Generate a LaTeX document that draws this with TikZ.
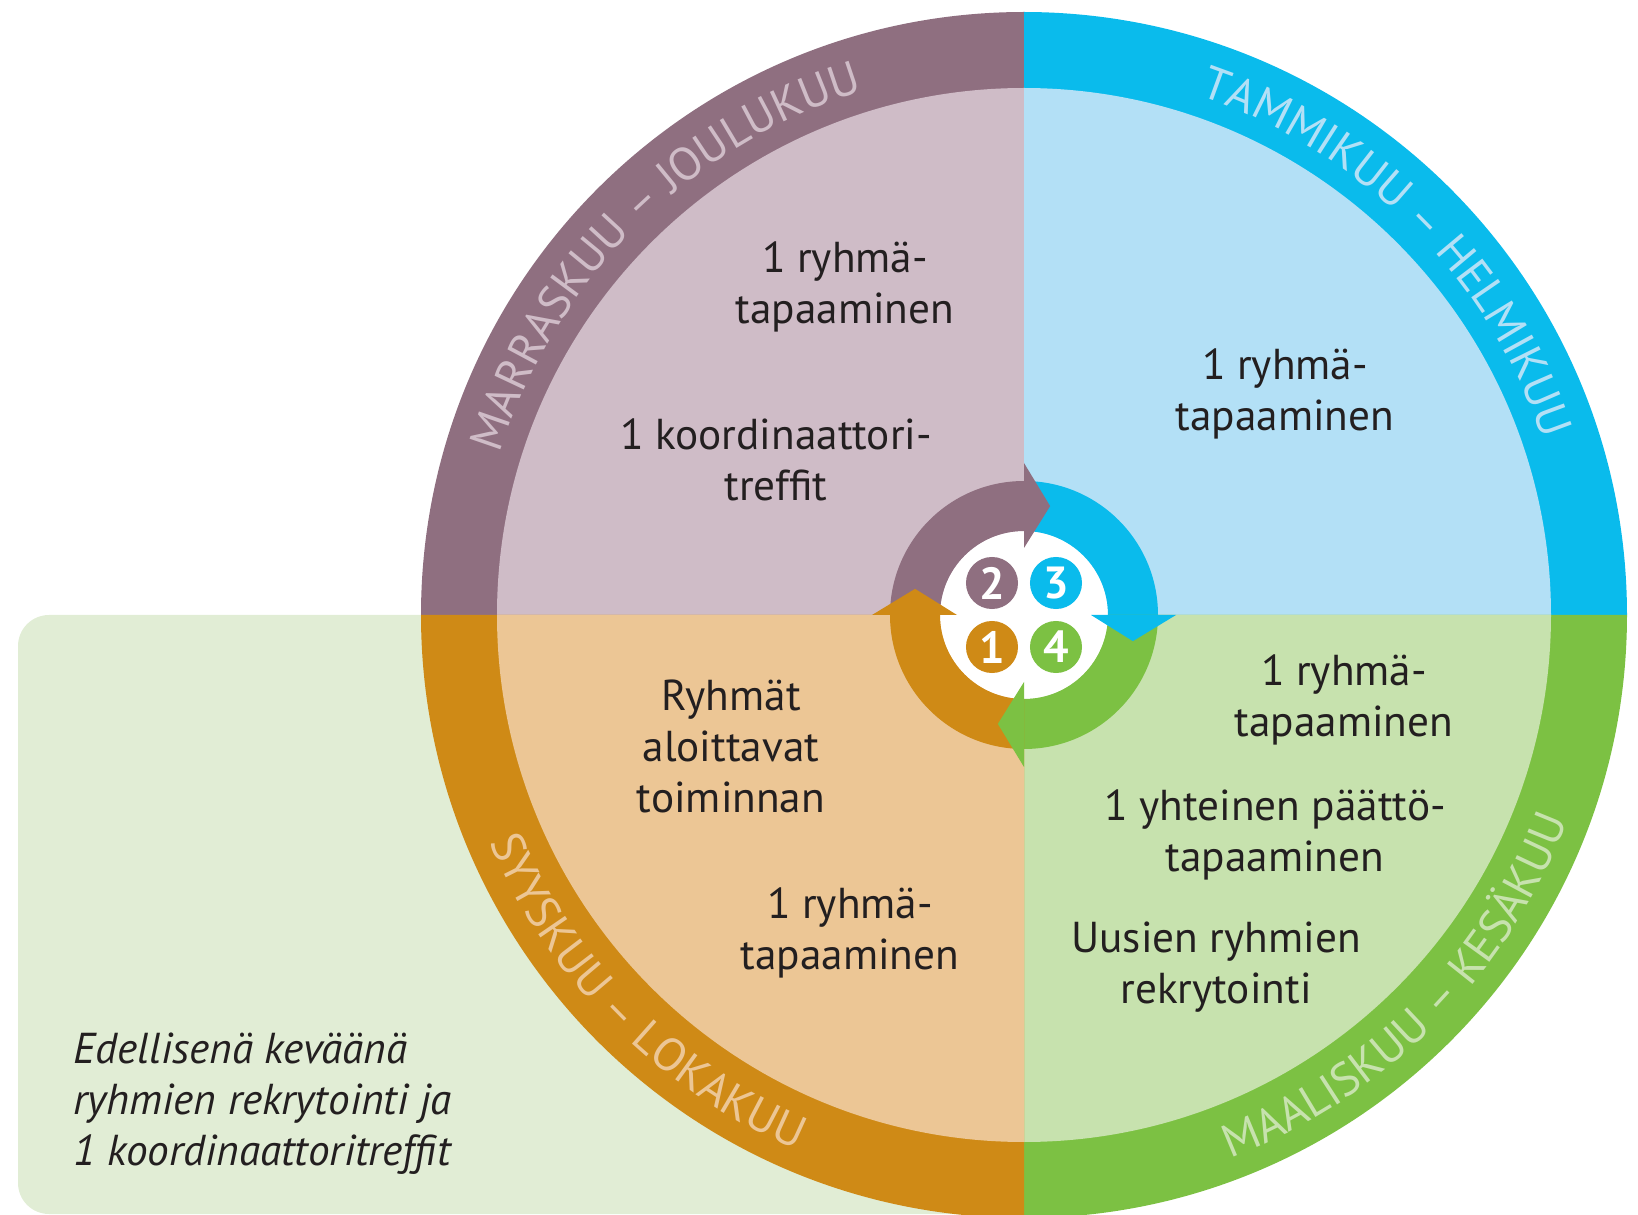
\documentclass[tikz,border=0pt]{standalone}
\usepackage{fontspec}
\setmainfont{PT Sans}
\usetikzlibrary{calc,decorations.text}
\definecolor{ringP}{HTML}{8F6F80}
\definecolor{fillP}{HTML}{CFBCC7}
\definecolor{ringB}{HTML}{0ABBEC}
\definecolor{fillB}{HTML}{B3E0F6}
\definecolor{ringG}{HTML}{7CC143}
\definecolor{fillG}{HTML}{C7E2AE}
\definecolor{ringO}{HTML}{CF8A16}
\definecolor{fillO}{HTML}{ECC695}
\definecolor{bgG}{HTML}{E1EDD5}
\definecolor{txt}{HTML}{231F20}
\newcommand\ringfnt{\fontsize{13.2}{15}\selectfont}
\newcommand\mkseg[3]{\fill[#1] ($(C)+(#2:134)$) arc[start angle=#2,end angle=#3,radius=134] -- ($(C)+(#3:84)$) arc[start angle=#3,end angle=#2,radius=84] -- cycle;}
\newcommand\mkhead[2]{\fill[#1] ($(C)+(#2:67)$) -- ($(C)+(#2:152)$) -- ($(C)+({#2-13.5}:112)$) -- cycle;}
\newcommand\mkquad[4]{%
  \fill[#1] (C) -- ($(C)+(#3:603)$) arc[start angle=#3,end angle=#4,radius=603] -- cycle;
  \fill[#2] (C) -- ($(C)+(#3:527)$) arc[start angle=#3,end angle=#4,radius=527] -- cycle;}
\tikzset{
  body/.style={font=\fontsize{12.3}{14.5}\selectfont, text=txt, align=center, inner sep=0pt},
  numc/.style={circle, inner sep=0pt, minimum size=0.52cm, text=white, font=\fontsize{12.8}{14}\selectfont\bfseries},
}
\begin{document}
\begin{tikzpicture}[x=0.01cm,y=0.01cm]
\useasboundingbox (0,0) rectangle (1638,1214);
\clip (0,0) rectangle (1638,1214);
\coordinate (C) at (1024,599);
% background panel
\fill[bgG, rounded corners=0.31cm] (18,0) rectangle (1024,599);
% quadrants
\mkquad{ringP}{fillP}{90}{180}
\mkquad{ringB}{fillB}{0}{90}
\mkquad{ringG}{fillG}{-90}{0}
\mkquad{ringO}{fillO}{180}{270}
% centre
\fill[white] (C) circle[radius=84];
\mkseg{ringP}{180}{90}
\mkseg{ringB}{90}{0}
\mkseg{ringG}{0}{-90}
\mkseg{ringO}{-90}{-180}
\mkhead{ringP}{90}
\mkhead{ringB}{0}
\mkhead{ringG}{-90}
\mkhead{ringO}{180}
\node[numc, fill=ringP] (n2) at (992,631) {2};
\node[numc, fill=ringB] (n3) at (1056,631) {3};
\node[numc, fill=ringO] (n1) at (992,567) {1};
\node[numc, fill=ringG] (n4) at (1056,567) {4};
% texts
\node[body] (p1) at (845,927) {1 ryhmä-\\tapaaminen};
\node[body] (p2) at (776,754) {1 koordinaattori-\\treffit};
\node[body] (b1) at (1285,820) {1 ryhmä-\\tapaaminen};
\node[body] (g1) at (1344,514) {1 ryhmä-\\tapaaminen};
\node[body] (g2) at (1275,379) {1 yhteinen päättö-\\tapaaminen};
\node[body] (g3) at (1216,247) {Uusien ryhmien\\rekrytointi};
\node[body] (o1) at (731,468) {Ryhmät\\aloittavat\\toiminnan};
\node[body] (o2) at (850,281) {1 ryhmä-\\tapaaminen};
\node[body, align=left, anchor=west, font=\fontsize{12.3}{14.5}\selectfont\itshape] (it) at (73,110) {Edellisenä keväänä\\ryhmien rekrytointi ja\\1 koordinaattoritreffit};
% ring labels
\path[decorate, decoration={text along path, text align=center, text={|\ringfnt\color{fillP}|MARRASKUU – JOULUKUU}}] ($(C)+(175:548)$) arc[start angle=175,end angle=95,radius=548];
\path[decorate, decoration={text along path, text align=center, text={|\ringfnt\color{fillB}|TAMMIKUU – HELMIKUU}}] ($(C)+(85:548)$) arc[start angle=85,end angle=5,radius=548];
\path[decorate, decoration={text along path, text align=center, text={|\ringfnt\color{fillG}|MAALISKUU – KESÄKUU}}] ($(C)+(-85:581)$) arc[start angle=-85,end angle=-5,radius=581];
\path[decorate, decoration={text along path, text align=center, text={|\ringfnt\color{fillO}|SYYSKUU – LOKAKUU}}] ($(C)+(185:581)$) arc[start angle=185,end angle=265,radius=581];
\end{tikzpicture}
\end{document}
